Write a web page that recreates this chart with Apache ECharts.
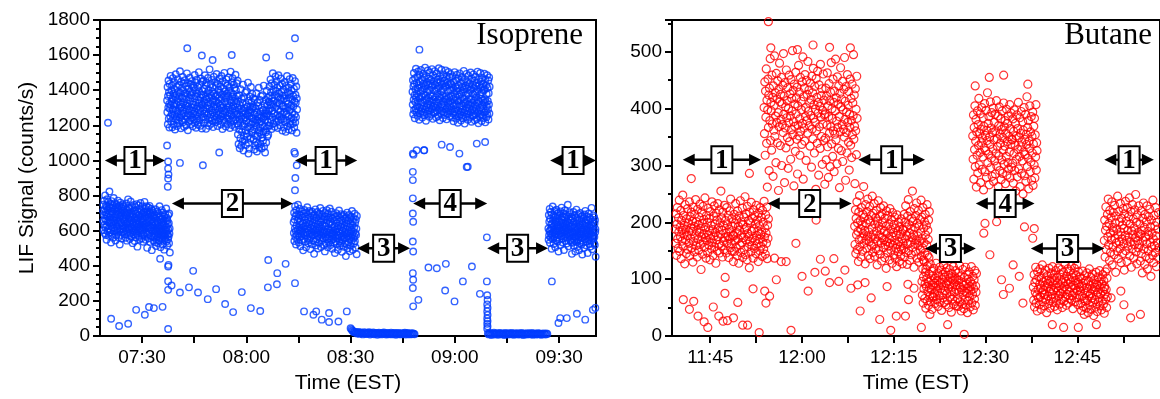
<!DOCTYPE html>
<html>
<head>
<meta charset="utf-8">
<script src="https://cdn.jsdelivr.net/npm/echarts@6/dist/echarts.min.js"></script>
<style>
  html, body { margin: 0; padding: 0; background: #fff; }
  #chart { width: 1160px; height: 399px; }
</style>
</head>
<body>
<div id="chart"></div>
<script>
// 时间单位：分钟（从午夜起算），例如 450 = 07:30

// ---------- Isoprene（左图）各段，读自原图 ----------
const isoTicks = [450, 465, 480, 495, 510, 525, 540, 555, 570]
const isoTickLabels = [450, 480, 510, 540, 570]

// 段 1（07:19 - 07:38）
const isoSpanA = [438.8, 458.0]
const isoA = [712, 655, 748, 603, 690, 771, 634, 586, 722, 668, 801, 619, 704, 575, 743, 660, 692, 548, 735, 628, 779, 681, 597, 716, 652, 763, 612, 699, 571, 738, 645, 823, 677, 590, 727, 661, 752, 603, 689, 533, 711, 642, 768, 620, 696, 582, 745, 663, 708, 559, 731, 648, 786, 615, 674, 598, 720, 656, 757, 601, 683, 544, 726, 639, 695, 572, 748, 627, 709, 660, 589, 733, 612, 771, 650, 691, 563, 719, 635, 742, 596, 677, 521, 703, 648, 760, 608, 686, 575, 729, 643, 698, 555, 715, 629, 750, 594, 671, 612, 737,
  684, 627, 741, 598, 663, 706, 581, 652, 728, 615, 694, 560, 676, 639, 755, 604, 687, 543, 719, 646, 591, 702, 633, 778, 617, 668, 574, 731, 655, 608, 697, 552, 724, 641, 586, 679, 766, 622, 701, 567, 658, 614, 739, 593, 682, 636, 529, 711, 649, 600, 692, 578, 747, 628, 665, 541, 716, 607, 673, 589, 734, 645, 562, 698, 620, 751, 583, 661, 637, 509, 707, 596, 670, 624, 744, 571, 688, 612, 655, 549, 723, 639, 602, 681, 758, 617, 664, 586, 713, 630, 557, 695, 648, 605, 739, 576, 669, 621, 537, 704,
  656, 582, 708, 633, 764, 569, 690, 617, 725, 548, 683, 641, 702, 591, 739, 624, 667, 502, 711, 646, 578, 694, 615, 732, 557, 672, 628, 706, 583, 741, 609, 655, 536, 697, 620, 685, 571, 724, 603, 662, 489, 688, 631, 715, 566, 649, 597, 703, 542, 676,
  618, 563, 692, 587, 649, 534, 671, 604, 722, 575, 638, 513, 684, 609, 552, 657, 596, 710, 568, 631, 647, 528, 699, 583, 615, 544, 676, 601, 739, 559, 627, 592, 663, 506, 688, 612, 571, 645, 598, 717, 549, 634, 580, 668, 521, 703, 589, 641, 566, 655, 607, 492, 681, 574, 629, 546, 694, 603, 560, 652, 585, 726, 538, 620, 597, 673, 515, 659, 578, 636, 551, 689, 606, 567, 642, 529, 698, 584, 613, 476]

// 段 2（高值，中间有一段下陷）
const isoSpanB1 = [457.2, 477.5]
const isoB1 = [1342, 1275, 1418, 1206, 1367, 1301, 1455, 1238, 1389, 1322, 1187, 1436, 1294, 1371, 1249, 1482, 1316, 1223, 1398, 1337, 1265, 1427, 1189, 1353, 1290, 1469, 1241, 1381, 1312, 1204, 1445, 1327, 1262, 1404, 1176, 1359, 1286, 1491, 1233, 1375, 1318, 1251, 1420, 1196, 1346, 1279, 1463, 1226, 1392, 1335, 1270, 1431, 1211, 1364, 1297, 1508, 1244, 1386, 1320, 1183, 1449, 1305, 1258, 1412, 1229, 1356, 1283, 1476, 1217, 1396, 1329, 1266, 1438, 1192, 1369, 1301, 1457, 1236, 1383, 1314, 1255, 1424, 1201, 1349, 1288, 1496, 1247, 1378, 1325, 1172, 1441, 1309, 1264, 1409, 1221, 1361, 1293, 1471, 1230, 1390, 1338, 1257, 1433, 1207, 1372, 1284, 1452, 1243, 1385, 1319, 1195, 1426, 1302, 1268, 1415, 1234, 1354, 1280, 1487, 1214, 1399, 1331, 1260, 1443, 1186, 1366, 1296, 1460, 1239, 1380, 1310, 1253, 1419, 1203, 1344, 1287, 1503, 1228, 1393, 1327, 1271, 1435, 1198, 1358, 1299, 1466, 1245, 1376, 1316, 1182, 1448,
  1318, 1395, 1247, 1372, 1289, 1456, 1213, 1341, 1408, 1266, 1327, 1485, 1235, 1363, 1301, 1428, 1180, 1350, 1279, 1443, 1257, 1384, 1312, 1214, 1470, 1332, 1269, 1401, 1198, 1357, 1296, 1519, 1240, 1379, 1323, 1261, 1434, 1209, 1368, 1285, 1459, 1227, 1390, 1336, 1274, 1416, 1190, 1345, 1307, 1477, 1252, 1382, 1318, 1232, 1447, 1293, 1364, 1218, 1425, 1339, 1271, 1492, 1244, 1373, 1306, 1196, 1437, 1328, 1259, 1403, 1225, 1359, 1288, 1466, 1238, 1387, 1315, 1267, 1421, 1205, 1348, 1298, 1481, 1250, 1376, 1321, 1179, 1452, 1303, 1263, 1410, 1231, 1366, 1282, 1499, 1219, 1393, 1334, 1276, 1439, 1193, 1355, 1291, 1462, 1242, 1381, 1325, 1255, 1429, 1208, 1370, 1300, 1473, 1236, 1397, 1313, 1268, 1418, 1185, 1343, 1286, 1506, 1229, 1388, 1331, 1258, 1445, 1202, 1362, 1295, 1468, 1248, 1378, 1309, 1224, 1432, 1338, 1272, 1413, 1191, 1352, 1283, 1488, 1234, 1399, 1326, 1262, 1440, 1211, 1367, 1304, 1454]
const isoSpanB2 = [477.5, 486.5]
const isoB2 = [1263, 1148, 1337, 1201, 1094, 1288, 1372, 1176, 1232, 1069, 1315, 1254, 1127, 1406, 1219, 1296, 1083, 1247, 1351, 1163, 1274, 1108, 1329, 1195, 1432, 1236, 1057, 1282, 1141, 1360, 1210, 1299, 1116, 1244, 1387, 1171, 1268, 1088, 1321, 1226, 1152, 1395, 1259, 1134, 1308, 1192, 1443, 1270, 1101, 1341, 1215, 1285, 1066, 1252, 1364, 1183, 1307, 1125, 1276, 1418, 1207, 1333, 1159, 1290, 1240, 1379, 1168, 1302, 1221, 1355,
  1237, 1119, 1308, 1176, 1062, 1264, 1349, 1143, 1215, 1087, 1296, 1232, 1105, 1383, 1198, 1273, 1051, 1226, 1330, 1139, 1252, 1096, 1311, 1170, 1414, 1213, 1074, 1259, 1158, 1344, 1187, 1279, 1093, 1221, 1366, 1149, 1247, 1068, 1302, 1204, 1131, 1372, 1238, 1112, 1287, 1165, 1426, 1249, 1079, 1322, 1193, 1266, 1045, 1230, 1345, 1161, 1284, 1102, 1255, 1397, 1184, 1314, 1136, 1269, 1218, 1358, 1146, 1281, 1200, 1334]
const isoSpanB3 = [486.5, 494.6]
const isoB3 = [1334, 1256, 1421, 1198, 1367, 1295, 1462, 1231, 1388, 1317, 1179, 1440, 1283, 1356, 1247, 1497, 1321, 1209, 1402, 1340, 1268, 1430, 1192, 1373, 1301, 1478, 1237, 1396, 1311, 1220, 1451, 1330, 1259, 1415, 1185, 1361, 1289, 1485, 1226, 1383, 1324, 1250, 1426, 1201, 1352, 1278, 1467, 1233, 1390, 1345, 1262, 1437, 1170, 1369, 1306,
  1312, 1239, 1404, 1187, 1351, 1276, 1447, 1218, 1370, 1298, 1163, 1425, 1264, 1339, 1229, 1481, 1303, 1195, 1387, 1322, 1252, 1414, 1176, 1357, 1284, 1463, 1221, 1379, 1293, 1206, 1436, 1315, 1243, 1398, 1171, 1346, 1272, 1470, 1210, 1367, 1308, 1235, 1409, 1188, 1336, 1261, 1452, 1217, 1374, 1329, 1247, 1421, 1158, 1353, 1290]

// 段 1（08:14 - 08:32）
const isoSpanC = [493.6, 511.8]
const isoC = [648, 587, 702, 541, 663, 612, 739, 566, 684, 598, 521, 716, 630, 575, 692, 549, 658, 607, 748, 583, 671, 533, 694, 620, 562, 725, 604, 651, 511, 687, 592, 633, 569, 709, 616, 547, 676, 598, 642, 488, 697, 579, 624, 553, 718, 609, 660, 537, 681, 594, 629, 506, 704, 573, 645, 588, 733, 556, 667, 613, 529, 690, 601, 638, 547, 712, 582, 654, 495, 676, 617, 565, 699, 591, 632, 523, 708, 574, 649, 606, 544, 685, 597, 627, 468, 693, 580, 659, 539, 721, 603, 641, 516, 674, 586, 613, 552, 706, 570, 637, 498, 683, 599, 655, 531, 697, 578, 622, 560, 729, 592, 648, 507, 670, 611, 574, 689, 546, 635, 584, 713, 557, 662, 603, 520, 679, 593, 628, 482, 701,
  623, 566, 681, 527, 644, 592, 717, 551, 662, 579, 505, 697, 610, 558, 673, 532, 639, 588, 726, 569, 651, 518, 676, 603, 546, 708, 585, 634, 497, 668, 575, 616, 553, 690, 599, 531, 657, 581, 624, 473, 678, 562, 607, 538, 700, 592, 643, 522, 664, 577, 612, 491, 686, 557, 628, 571, 715, 540, 650, 596, 514, 673, 584, 621, 530, 694, 565, 637, 480, 659, 600, 548, 682, 574, 615, 508, 691, 557, 632, 589, 527, 668, 580, 610, 455, 676, 563, 642, 523, 703, 586, 624, 500, 657, 569, 596, 535, 689, 553, 620, 483, 666, 582, 638, 515, 680, 561, 605, 543, 712, 575, 631, 491, 653, 594, 557, 672, 529, 618, 567, 696, 540, 645, 586, 504, 662, 576, 611, 466, 684]

// 段 3（零点）
const isoSpanD = [510.0, 528.4]
const isoD = [44, 38, 31, 27, 22, 25, 18, 21, 14, 19, 23, 12, 17, 20, 15, 9, 18, 22, 13, 16, 11, 19, 14, 21, 8, 17, 12, 15, 20, 10, 16, 13, 18, 7, 14, 19, 11, 15, 9, 17, 13, 20, 12, 16, 8, 14, 18, 10, 15, 12, 19, 9, 13, 16, 11, 17, 7, 14, 12, 18, 10, 15, 13, 9, 16, 11, 14, 19, 8, 13, 17, 10, 15, 12, 9, 16, 11, 14, 13, 10]

// 段 4
const isoSpanE = [527.8, 550.0]
const isoE = [1392, 1318, 1457, 1263, 1421, 1346, 1498, 1287, 1435, 1371, 1240, 1469, 1334, 1406, 1295, 1522, 1360, 1276, 1443, 1381, 1308, 1476, 1255, 1413, 1339, 1507, 1284, 1428, 1365, 1232, 1488, 1353, 1301, 1450, 1269, 1396, 1327, 1515, 1281, 1419, 1362, 1296, 1463, 1244, 1403, 1331, 1493, 1272, 1437, 1376, 1310, 1471, 1258, 1409, 1343, 1529, 1290, 1424, 1368, 1226, 1482, 1350, 1304, 1447, 1266, 1391, 1322, 1512, 1278, 1432, 1357, 1299, 1466, 1249, 1401, 1337, 1501, 1285, 1440, 1373, 1314, 1459, 1261, 1416, 1340, 1520, 1293, 1426, 1366, 1237, 1485, 1348, 1307, 1452, 1270, 1398, 1325, 1509, 1275, 1430, 1359, 1302, 1472, 1246, 1405, 1333, 1496, 1283, 1444, 1379, 1312, 1461, 1253, 1411, 1345, 1525, 1288, 1422, 1364, 1229, 1479, 1355, 1298, 1449, 1267, 1394, 1320, 1517, 1280, 1434, 1370, 1306, 1468, 1242, 1408, 1336, 1490, 1274, 1438, 1362, 1316, 1456, 1259, 1417, 1347, 1513, 1291, 1425, 1367, 1234, 1481, 1352, 1300, 1446, 1264, 1397, 1328, 1504, 1279, 1431, 1358, 1309, 1474, 1251, 1402, 1338, 1492, 1286, 1439,
  1367, 1298, 1432, 1245, 1401, 1324, 1479, 1270, 1413, 1350, 1223, 1448, 1315, 1385, 1278, 1503, 1342, 1259, 1422, 1361, 1290, 1455, 1238, 1394, 1319, 1488, 1266, 1409, 1345, 1215, 1467, 1334, 1283, 1429, 1252, 1376, 1307, 1496, 1263, 1399, 1341, 1277, 1444, 1227, 1384, 1312, 1474, 1255, 1418, 1356, 1292, 1451, 1240, 1389, 1325, 1510, 1273, 1404, 1348, 1210, 1463, 1331, 1286, 1427, 1249, 1372, 1303, 1493, 1261, 1412, 1338, 1281, 1446, 1232, 1382, 1318, 1482, 1268, 1421, 1353, 1296, 1439, 1244, 1397, 1321, 1501, 1275, 1406, 1347, 1220, 1465, 1329, 1289, 1433, 1253, 1379, 1306, 1490, 1258, 1411, 1340, 1284, 1453, 1229, 1386, 1314, 1477, 1265, 1425, 1360, 1294, 1442, 1236, 1392, 1327, 1506, 1271, 1403, 1345, 1212, 1460, 1336, 1280, 1430, 1250, 1375, 1301, 1498, 1262, 1415, 1351, 1287, 1449, 1225, 1388, 1317, 1471, 1257, 1419, 1343, 1297, 1437, 1242, 1398, 1328, 1494, 1274, 1407, 1349, 1217, 1462, 1333, 1282, 1428, 1246, 1378, 1309, 1485, 1260, 1412, 1339, 1291, 1456, 1233, 1383, 1319, 1473, 1267, 1420]

// 段 3（零点）
const isoSpanF = [549.5, 566.6]
const isoF = [14, 9, 17, 12, 6, 15, 11, 19, 8, 13, 16, 10, 7, 14, 18, 11, 9, 15, 12, 6, 17, 10, 13, 8, 16, 11, 14, 9, 18, 12, 7, 15, 10, 13, 16, 8, 11, 14, 9, 17, 12, 6, 15, 10, 13, 8, 16, 11, 14, 9, 12, 18, 7, 13, 10, 15, 8, 12, 16, 9, 14, 11, 7, 13, 10, 15, 12, 8, 14, 11]

// 段 1（09:27 以后）
const isoSpanG = [566.9, 580.5]
const isoG = [612, 548, 689, 573, 651, 597, 724, 531, 668, 604, 582, 706, 559, 637, 615, 497, 693, 576, 641, 588, 738, 552, 660, 609, 524, 685, 593, 629, 567, 712, 580, 654, 506, 677, 601, 636, 545, 719, 589, 648, 562, 697, 611, 538, 671, 596, 625, 481, 703, 578, 657, 614, 551, 687, 599, 633, 519, 710, 585, 645, 570, 731, 603, 662, 534, 681, 592, 619, 556, 699, 608, 641, 490, 674, 583, 627, 564, 716, 597, 650, 541, 692, 577, 638, 617, 527, 683, 600, 653, 560, 748, 586, 631, 511, 667, 606, 644, 572, 705, 589, 622, 547, 694, 581, 659, 536, 679, 610, 626, 468,
  594, 531, 670, 556, 633, 579, 706, 514, 650, 587, 565, 689, 542, 619, 598, 481, 675, 559, 623, 571, 720, 535, 642, 592, 507, 667, 576, 611, 550, 694, 563, 636, 489, 659, 584, 618, 528, 701, 572, 630, 545, 679, 594, 521, 653, 579, 607, 464, 685, 561, 639, 597, 534, 669, 582, 615, 502, 692, 568, 627, 553, 713, 586, 644, 517, 663, 575, 601, 539, 681, 591, 623, 473, 656, 566, 609, 547, 698, 580, 632, 524, 674, 560, 620, 600, 510, 665, 583, 635, 543, 730, 569, 613, 494, 649, 589, 626, 555, 687, 572, 604, 530, 676, 564, 641, 519, 661, 593, 608, 451]

// 离散点 [时间, 信号]
const isoStray = [[440.2, 1215], [441.1, 98], [443.4, 57], [446.0, 70], [448.3, 149], [450.8, 121], [452.0, 165], [453.4, 159], [455.9, 166], [457.5, 40], [457.5, 263], [457.5, 312], [458.5, 288], [460.9, 248], [463.5, 277], [464.7, 371], [466.1, 248], [468.9, 210], [471.3, 267], [473.9, 182], [476.2, 136], [478.7, 250], [481.3, 159], [484.0, 142], [486.2, 277], [486.3, 433], [488.8, 295], [488.9, 358], [491.3, 411], [494.0, 301],
  [457.2, 1085], [457.5, 994], [457.5, 954], [457.6, 920], [457.5, 897], [457.4, 850], [457.6, 405], [457.5, 396], [455.2, 440],
  [460.9, 986], [467.5, 973], [472.2, 1045], [480.6, 1039], [493.8, 1049], [494.5, 973], [494.1, 900], [494.0, 830], [494.0, 1039],
  [463.0, 1639], [467.2, 1598], [475.8, 1601], [494.0, 1696], [492.4, 1597], [470.3, 1572], [485.7, 1586],
  [496.6, 140], [499.3, 121], [500.1, 140], [501.7, 93], [503.8, 131], [503.8, 80], [506.5, 83], [508.9, 140],
  [527.9, 1039], [527.9, 935], [527.9, 888], [529.0, 1058], [531.1, 1058], [527.9, 784], [527.9, 698], [528.0, 651], [527.9, 538], [528.0, 481], [527.9, 358], [528.0, 320], [527.9, 273], [528.0, 169], [529.5, 206],
  [532.4, 390], [534.8, 386], [537.4, 411], [537.2, 259], [539.9, 197], [542.3, 311], [544.9, 396], [549.2, 562], [547.2, 240], [549.2, 311],
  [543.4, 963], [541.3, 1039], [546.3, 1096], [548.7, 1105], [529.8, 1631], [528.1, 1033], [531.2, 1058], [536.2, 1090], [538.6, 1077], [543.7, 964],
  [549.3, 232], [549.4, 205], [549.3, 180], [549.4, 160], [549.3, 140], [549.4, 120], [549.3, 100], [549.4, 85], [549.3, 70], [549.4, 55], [549.3, 42],
  [567.9, 311], [570.3, 102], [572.2, 102], [575.1, 127], [577.5, 93], [579.7, 149], [569.8, 74], [580.4, 160]]

// 双箭头标注 [起, 止, y, 编号]
const isoArrows = [[439.3, 456.6, 1000, '1'], [494.0, 511.9, 1000, '1'], [567.4, 580.6, 1000, '1'],
  [458.6, 493.4, 755, '2'], [511.9, 527.1, 500, '3'], [528.0, 549.3, 755, '4'], [549.3, 566.8, 500, '3']]

// ---------- Butane（右图） ----------
const butTicks = [705, 712.5, 720, 727.5, 735, 742.5, 750, 757.5, 765, 772.5]
const butTickLabels = [705, 720, 735, 750, 765]

const butSpan1 = [699.3, 714.5]
const but1 = [188, 163, 215, 142, 197, 226, 171, 154, 208, 183, 239, 149, 192, 175, 221, 136, 203, 167, 186, 248, 158, 212, 179, 195, 127, 231, 169, 188, 145, 206, 177, 224, 152, 199, 183, 163, 236, 141, 210, 172, 190, 218, 155, 184, 202, 130, 227, 166, 193, 148, 214, 176, 240, 159, 201, 186, 139, 223, 170, 196, 151, 209, 181, 232, 161, 189, 117, 217, 174, 198, 144, 228, 165, 205, 180, 156, 243, 173, 191, 137, 212, 168, 200, 147, 225, 178, 160, 207, 185, 134, 219, 171, 194, 153, 236, 164, 187, 142, 211, 176, 229, 157, 197, 182, 128, 216, 169, 204, 150, 233, 175, 190, 161, 222, 146, 199, 179, 255, 158, 208, 186, 139, 218, 167, 194, 152, 230, 173, 103, 203, 181, 146, 226, 163, 196, 175, 212, 138, 188, 171, 220, 155, 241, 183, 162, 206, 149, 193, 177, 131,
  176, 214, 149, 198, 167, 233, 156, 205, 182, 141, 220, 171, 193, 128, 211, 186, 160, 238, 147, 201, 178, 164, 225, 138, 196, 173, 209, 152, 187, 245, 143, 215, 169, 191, 134, 228, 180, 157, 203, 175, 120, 218, 166, 199, 148, 235, 184, 159, 207, 172, 137, 222, 189, 154, 212, 168, 197, 145, 230, 177, 162, 204, 185, 131, 216, 170, 194, 150, 226, 179, 158, 209, 183, 140, 221, 165, 200, 153, 237, 174, 190, 144, 213, 181, 163, 227, 136, 195, 172, 206]

const butSpan2 = [713.8, 729.0]
const but2 = [402, 356, 447, 318, 431, 385, 470, 339, 415, 262, 398, 452, 367, 424, 291, 436, 379, 488, 344, 411, 396, 327, 459, 373, 420, 281, 440, 362, 406, 493, 351, 428, 387, 305, 462, 376, 417, 340, 449, 393, 256, 434, 368, 480, 412, 335, 425, 381, 455, 300, 409, 372, 441, 358, 497, 390, 422, 270, 446, 366, 403, 331, 468, 384, 414, 349, 437, 295, 400, 375, 459, 342, 426, 387, 311, 451, 363, 418, 396, 502, 354, 432, 377, 264, 443, 369, 408, 325, 464, 391, 419, 346, 438, 285, 405, 371, 476, 352, 429, 382, 318, 455, 360, 413, 398, 337, 447, 374, 491, 276, 421, 366, 436, 343, 460, 386, 402, 309, 450, 379, 425, 357, 483, 395, 248, 433, 370, 410, 334, 445, 388, 416, 297, 457, 364, 428, 347, 471, 383, 407, 322, 439, 376, 399, 258, 453, 361, 420, 339, 466, 392, 411, 283, 442, 368, 404, 330, 478, 385, 423, 351, 435, 302, 397, 373, 461, 344, 415, 389, 267,
  391, 348, 436, 310, 422, 371, 463, 333, 405, 279, 386, 444, 357, 414, 298, 429, 368, 481, 338, 400, 383, 316, 452, 361, 411, 289, 431, 355, 396, 487, 345, 419, 378, 303, 456, 367, 408, 330, 440, 386, 261, 427, 359, 472, 403, 326, 417, 372, 448, 307, 398, 364, 434, 350, 490, 381, 413, 274, 439, 358, 394, 322, 460, 376, 406, 341, 430, 292, 390, 367, 452, 336, 418, 379, 314, 443, 354, 410, 388, 495, 346, 424, 369, 268, 435, 361, 399, 319, 457, 383]

const butSpan3 = [728.6, 740.8]
const but3 = [193, 161, 222, 145, 207, 178, 236, 152, 199, 184, 131, 218, 169, 247, 157, 203, 188, 139, 226, 172, 195, 149, 214, 180, 263, 163, 209, 186, 127, 231, 170, 198, 154, 219, 176, 241, 142, 205, 183, 166, 228, 136, 201, 174, 212, 158, 190, 246, 147, 216, 179, 162, 233, 140, 197, 171, 208, 153, 221, 185, 125, 202, 167, 238, 150, 193, 177, 211, 144, 226, 164, 187, 132, 215, 173, 199, 155, 229, 169, 184, 138, 207, 160, 193, 119, 220, 166, 181, 146, 212, 158, 197, 171, 134, 224, 163, 188, 151, 205, 175, 128, 217, 160, 182, 143, 196, 168, 209, 137, 190, 154, 177, 122, 213, 161, 185, 148, 200, 166, 131, 192, 157, 179, 141, 206, 152, 171, 127, 188, 163,
  186, 154, 214, 139, 200, 171, 229, 147, 192, 177, 126, 211, 162, 240, 150, 196, 181, 133, 219, 165, 188, 143, 207, 173, 255, 156, 202, 179, 121, 224, 163, 191, 148, 212, 169, 234, 137, 198, 176, 159, 221, 130, 194, 167, 205, 151, 183, 239, 140, 209, 172, 155, 226, 134, 190, 164, 201, 146, 214, 178, 118, 195, 160, 231, 142, 186, 170, 204, 138, 219]

const butSpan4 = [739.6, 748.5]
const but4 = [96, 72, 118, 58, 104, 83, 131, 66, 92, 112, 49, 87, 101, 62, 123, 78, 95, 54, 109, 85, 70, 127, 61, 98, 81, 114, 47, 90, 106, 68, 119, 75, 93, 57, 102, 86, 128, 64, 97, 79, 111, 52, 89, 105, 71, 121, 60, 94, 83, 116, 45, 99, 76, 108, 67, 125, 88, 59, 103, 80, 113, 55, 92, 74, 120, 63, 96, 84, 107, 50, 90, 117, 69, 101, 78, 42, 110, 86, 65, 98, 122, 56, 93, 77, 104, 61, 115, 82, 53, 100,
  89, 66, 111, 52, 98, 77, 124, 60, 86, 106, 44, 81, 95, 56, 117, 72, 89, 48, 103, 79, 64, 121, 55, 92, 75, 108, 41, 84, 100, 62, 113, 69, 87, 51, 96, 80, 122, 58, 91, 73, 105, 46, 83, 99, 65, 115, 54, 88, 77, 110]

const butSpan5 = [747.9, 758.4]
const but5 = [352, 311, 389, 276, 367, 328, 405, 298, 343, 381, 262, 359, 318, 396, 287, 372, 335, 418, 301, 356, 323, 391, 270, 364, 340, 402, 293, 348, 315, 384, 257, 369, 331, 409, 289, 353, 326, 397, 279, 362, 344, 428, 305, 374, 320, 386, 266, 350, 337, 412, 296, 366, 313, 393, 281, 358, 329, 401, 272, 345, 376, 308, 390, 285, 361, 322, 414, 299, 347, 333, 387, 263, 370, 317, 403, 291, 355, 339, 382, 275, 363, 310, 396, 286, 349, 327, 410, 302, 368, 334, 379, 268, 357, 316, 399, 283, 342, 374, 305, 387, 294, 351, 324, 407, 278, 365, 337, 392, 297, 346,
  345, 304, 382, 269, 360, 321, 398, 291, 336, 374, 255, 352, 311, 389, 280, 365, 328, 411, 294, 349, 316, 384, 263, 357, 333, 395, 286, 341, 308, 377, 250, 362, 324, 402, 282, 346, 319, 390, 272, 355, 337, 421, 298, 367, 313, 379, 259, 343, 330, 405, 289, 359, 306, 386, 274, 351, 322, 394, 265, 338, 369, 301, 383, 278, 354, 315, 407, 292, 340, 326]

const butSpan6 = [757.8, 769.9]
const but6 = [86, 63, 108, 51, 94, 77, 121, 58, 99, 72, 44, 113, 82, 67, 104, 55, 91, 118, 69, 84, 47, 102, 76, 125, 60, 95, 81, 110, 53, 89, 73, 116, 64, 98, 41, 87, 106, 70, 92, 57, 119, 78, 96, 49, 83, 111, 66, 101, 74, 122, 59, 90, 80, 107, 52, 97, 68, 115, 85, 62, 103, 46, 93, 79, 120, 71, 88, 56, 109, 75, 99, 65, 117, 83, 50, 94, 78, 112, 61, 101, 87, 127, 69, 96, 54, 105, 82, 73, 118, 92, 58, 100, 77, 114, 66, 95, 85, 123, 63, 103, 71, 48, 110, 89, 76, 119, 60, 98, 84, 107, 67, 126, 80, 94, 55, 113, 91, 72, 104, 86,
  79, 57, 101, 45, 88, 70, 114, 52, 93, 66, 38, 106, 75, 61, 97, 49, 85, 111, 63, 78, 41, 96, 70, 118, 54, 89, 74, 103, 47, 83, 67, 109, 58, 92, 36, 81, 99, 64, 86, 51, 112, 72, 90, 43, 77, 104, 60, 95, 68, 115, 53, 84, 74, 100, 46, 91, 62, 108, 79, 56, 97, 40, 87, 73, 113, 65, 82, 50, 102, 69]

const butSpan7 = [769.4, 778.3]
const but7 = [168, 204, 139, 186, 227, 152, 193, 118, 214, 175, 241, 160, 198, 133, 221, 181, 147, 208, 169, 236, 125, 191, 157, 217, 184, 143, 230, 172, 199, 112, 211, 164, 188, 149, 246, 178, 136, 219, 166, 201, 154, 233, 183, 129, 207, 171, 195, 145, 224, 162, 189, 116, 215, 177, 237, 150, 202, 168, 131, 226, 186, 158, 210, 174, 243, 141, 197, 165, 219, 121, 185, 153, 231, 179, 206, 137, 190, 161, 222, 173, 249, 148, 200, 127, 213, 167, 182, 155, 229, 176,
  161, 197, 132, 179, 220, 145, 186, 111, 207, 168, 234, 153, 191, 126, 214, 174, 140, 201, 162, 229, 118, 184, 150, 210, 177, 136, 223, 165, 192, 105, 204, 157, 181, 142, 239, 171, 129, 212, 159, 194, 147, 226, 176, 122, 200, 164, 188, 138, 217, 155]

const butStray = [[700.6, 64], [701.6, 47], [702.3, 61], [703.0, 35], [704.0, 25], [704.6, 15], [705.5, 51], [706.4, 35], [707.1, 26], [707.8, 27], [708.8, 32], [710.3, 19], [711.1, 19], [713.0, 6], [707.4, 75], [709.5, 59], [712.0, 83], [713.9, 79], [714.1, 58], [714.7, 70], [715.8, 99], [716.6, 131], [717.4, 131], [715.5, 137], [718.2, 10], [719.0, 163], [720.0, 105], [721.0, 79], [722.1, 112], [723.0, 135], [723.8, 114], [724.5, 94], [725.2, 136], [726.0, 96], [727.0, 116], [722.3, 204], [711.4, 286], [701.9, 277], [714.5, 553], [714.9, 507], [719.25, 504], [721.8, 512], [724.5, 508], [727.9, 507],
  [728.0, 84], [729.1, 90], [729.5, 44], [730.3, 94], [731.3, 67], [732.7, 29], [733.9, 87], [734.5, 10], [735.4, 35], [736.9, 35], [737.4, 64], [738.3, 84], [737.3, 91],
  [749.7, 181], [749.9, 198], [751.8, 201], [754.5, 125], [755.5, 105], [752.6, 99], [753.9, 84], [756.1, 58], [752.9, 73], [756.35, 192], [757.7, 172], [757.95, 189], [750.7, 143], [748.3, 440], [750.6, 455], [752.95, 459], [756.9, 443], [746.5, 3], [743.8, 20], [740.9, 38], [739.5, 15], [741.4, 70], [759.55, 73], [760.9, 20], [762.75, 15], [765.15, 15], [768.1, 20], [772.6, 55], [773.7, 32], [775.3, 38], [770.5, 67], [769.4, 84], [772.1, 79]]

const butArrows = [[700.5, 713.3, 310, '1'], [729.2, 740.1, 310, '1'], [769.4, 777.5, 310, '1'],
  [714.4, 728.1, 233, '2'], [740.1, 748.4, 154, '3'], [748.4, 758.0, 233, '4'], [757.4, 769.4, 154, '3']]

// ---------- 构建 ----------
// 按采样顺序把一段读数摊到该段的时间范围上
function segment(span, values) {
  const n = values.length
  return values.map((v, i) => [span[0] + (span[1] - span[0]) * i / (n - 1), v])
}

const isoData = [].concat(
  segment(isoSpanA, isoA), segment(isoSpanB1, isoB1), segment(isoSpanB2, isoB2), segment(isoSpanB3, isoB3),
  segment(isoSpanC, isoC), segment(isoSpanD, isoD), segment(isoSpanE, isoE), segment(isoSpanF, isoF),
  segment(isoSpanG, isoG), isoStray)

const butData = [].concat(
  segment(butSpan1, but1), segment(butSpan2, but2), segment(butSpan3, but3), segment(butSpan4, but4),
  segment(butSpan5, but5), segment(butSpan6, but6), segment(butSpan7, but7), butStray)

function pad(n) {
  return (n < 10 ? '0' : '') + n
}
function hhmm(m) {
  const t = Math.round(m)
  return pad(Math.floor(t / 60)) + ':' + pad(t % 60)
}

const SANS = '"Liberation Sans", Arial, sans-serif'
const SERIF = '"Liberation Serif", "Times New Roman", serif'

function xAxisOf(gi, min, max, ticks, labels) {
  return {
    gridIndex: gi, type: 'value', min: min, max: max,
    name: 'Time (EST)', nameLocation: 'middle', nameGap: 37,
    nameTextStyle: { fontFamily: SANS, fontSize: 21, color: '#000' },
    axisLine: { lineStyle: { color: '#000', width: 2 } },
    axisTick: { customValues: ticks, length: 7, lineStyle: { color: '#000', width: 2 } },
    axisLabel: { customValues: labels, formatter: hhmm, fontFamily: SANS, fontSize: 19, color: '#000', margin: 12 },
    splitLine: { show: false },
  }
}

function yAxisOf(gi, max, interval, minorSplit, withName) {
  return {
    gridIndex: gi, type: 'value', min: 0, max: max, interval: interval,
    name: withName ? 'LIF Signal (counts/s)' : '', nameLocation: 'middle', nameGap: 62,
    nameTextStyle: { fontFamily: SANS, fontSize: 21, color: '#000' },
    axisLine: { show: true, lineStyle: { color: '#000', width: 2 } },
    axisTick: { show: true, length: 7, lineStyle: { color: '#000', width: 2 } },
    minorTick: { show: true, splitNumber: minorSplit, length: 4, lineStyle: { color: '#000', width: 2 } },
    axisLabel: {
      fontFamily: SANS, fontSize: 19, color: '#000', margin: 10,
      formatter: (v) => (v % interval === 0 ? String(v) : ''),
    },
    splitLine: { show: false },
  }
}

function pointsSeries(gi, data, color, size, lw) {
  return {
    type: 'scatter', xAxisIndex: gi, yAxisIndex: gi, data: data, z: 2,
    symbol: 'circle', symbolSize: size,
    itemStyle: { color: 'transparent', borderColor: color, borderWidth: lw },
    emphasis: { disabled: true }, silent: true,
  }
}

// 双箭头 + 方框编号（用坐标轴换算端点）
function arrowSeries(gi, arrows) {
  return {
    type: 'custom', xAxisIndex: gi, yAxisIndex: gi, z: 5, silent: true, clip: false,
    encode: { x: [0, 1], y: 2 },
    data: arrows.map((a) => [a[0], a[1], a[2]]),
    renderItem: (params, api) => {
      const p0 = api.coord([api.value(0), api.value(2)])
      const p1 = api.coord([api.value(1), api.value(2)])
      const x0 = p0[0], x1 = p1[0], y = p0[1], cx = (x0 + x1) / 2
      const L = 12, H = 6
      return {
        type: 'group',
        children: [
          { type: 'line', shape: { x1: x0 + L - 2, y1: y, x2: x1 - L + 2, y2: y }, style: { stroke: '#000', lineWidth: 2.5 } },
          { type: 'polygon', shape: { points: [[x0, y], [x0 + L, y - H], [x0 + L, y + H]] }, style: { fill: '#000' } },
          { type: 'polygon', shape: { points: [[x1, y], [x1 - L, y - H], [x1 - L, y + H]] }, style: { fill: '#000' } },
          { type: 'rect', shape: { x: cx - 10.5, y: y - 13.5, width: 21, height: 27 }, style: { fill: '#fff', stroke: '#000', lineWidth: 2 } },
          { type: 'text', x: cx, y: y + 1, style: { text: arrows[params.dataIndex][3], font: 'bold 27px ' + SERIF, fill: '#000', align: 'center', verticalAlign: 'middle' } },
        ],
      }
    },
  }
}

const chart = echarts.init(document.getElementById('chart'), null, { renderer: 'canvas' })
chart.setOption({
  animation: false,
  backgroundColor: '#fff',
  grid: [
    { left: 100, right: 564, top: 20, bottom: 61, show: true, borderColor: '#000', borderWidth: 2 },
    { left: 672, right: -10, top: 20, bottom: 61, show: true, borderColor: '#000', borderWidth: 2 },
  ],
  xAxis: [
    xAxisOf(0, 437.9, 580.6, isoTicks, isoTickLabels),
    xAxisOf(1, 698.75, 778.5, butTicks, butTickLabels),
  ],
  yAxis: [
    yAxisOf(0, 1800, 200, 4, true),
    yAxisOf(1, 556, 100, 2, false),
  ],
  graphic: [
    { type: 'text', right: 577, top: 20, style: { text: 'Isoprene', font: '31px ' + SERIF, fill: '#000' } },
    { type: 'text', right: 8, top: 20, style: { text: 'Butane', font: '31px ' + SERIF, fill: '#000' } },
  ],
  series: [
    pointsSeries(0, isoData, '#003cff', 6.5, 1.4),
    pointsSeries(1, butData, '#ff0000', 8, 1.2),
    arrowSeries(0, isoArrows),
    arrowSeries(1, butArrows),
  ],
})
</script>
</body>
</html>
